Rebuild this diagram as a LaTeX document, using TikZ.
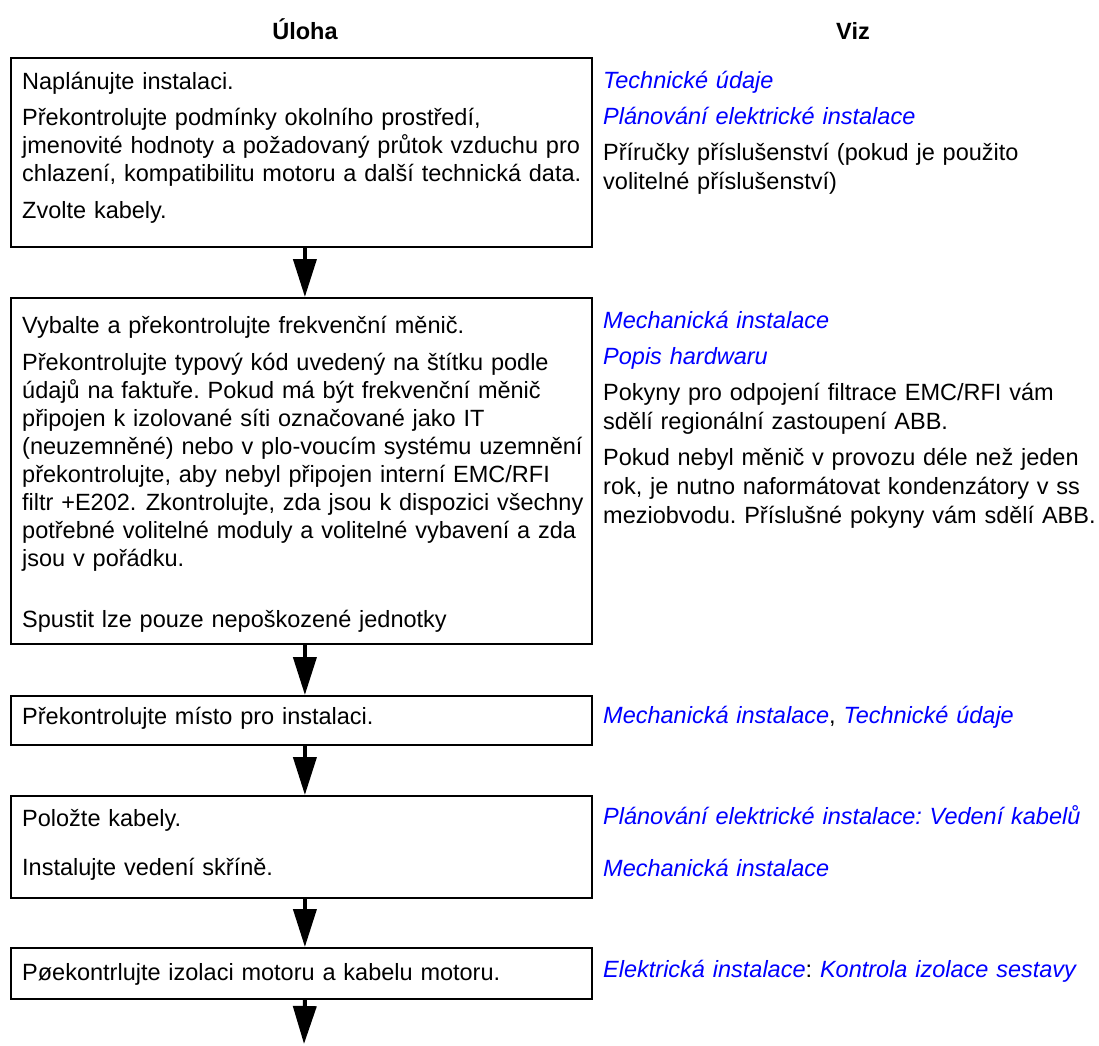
\documentclass[tikz,border=0pt]{standalone}
\usepackage{fontspec}
\setmainfont{Liberation Sans}
\usepackage{tikz}
\usetikzlibrary{arrows.meta}
\frenchspacing
\newcommand{\odkaz}[1]{{\color{blue}\itshape #1}}

\begin{document}
\begin{tikzpicture}[x=1pt, y=-1pt,
	every node/.style={font=\fontsize{23.5}{27.9}\selectfont, inner sep=0pt},
	krok/.style={draw, line width=1.8pt, minimum width=581pt, anchor=north west},
	ukol/.style={anchor=base west, align=left, text width=575pt},
	viz/.style={anchor=base west, align=left, text width=520pt, font=\fontsize{23.5}{29}\selectfont},
	hlava/.style={anchor=base, font=\fontsize{23.5}{27.9}\selectfont\bfseries},
	sipka/.style={line width=4pt, -{Triangle[width=23pt, length=38pt]}}]
	
	\useasboundingbox (0,0) rectangle (1099,1045);
	
	% hlavicky sloupcu
	\node[hlava] (uloha) at (305,39) {Úloha};
	\node[hlava] (vizh) at (853,39) {Viz};
	
	% kroky
	\node[krok, minimum height=189pt] (b1) at (10,57) {};
	\node[krok, minimum height=346pt] (b2) at (10,297) {};
	\node[krok, minimum height=49pt] (b3) at (10,695) {};
	\node[krok, minimum height=102pt] (b4) at (10,795) {};
	\node[krok, minimum height=51pt] (b5) at (10,947) {};
	
	\node[ukol] (t1) at (22,89) {Naplánujte instalaci.\\[9pt]
		Překontrolujte podmínky okolního prostředí,\\
		jmenovité hodnoty a požadovaný průtok vzduchu pro\\
		chlazení, kompatibilitu motoru a další technická data.\\[9pt]
		Zvolte kabely.};
	\node[ukol] (t2) at (22,333) {Vybalte a překontrolujte frekvenční měnič.\\[10pt]
		Překontrolujte typový kód uvedený na štítku podle\\
		údajů na faktuře. Pokud má být frekvenční měnič\\
		připojen k izolované síti označované jako IT\\
		(neuzemněné) nebo v plo-voucím systému uzemnění\\
		překontrolujte, aby nebyl připojen interní EMC/RFI\\
		filtr +E202.\ \hspace{1.5pt}Zkontrolujte, zda jsou k dispozici všechny\\
		potřebné volitelné moduly a volitelné vybavení a zda\\
		jsou v pořádku.\\[33pt]
		Spustit lze pouze nepoškozené jednotky};
	\node[ukol] (t3) at (22,724) {Překontrolujte místo pro instalaci.};
	\node[ukol] (t4) at (22,826) {Položte kabely.\\[22pt]
		Instalujte vedení skříně.};
	\node[ukol] (t5) at (22,980) {Pøekontrlujte izolaci motoru a kabelu motoru.};
	
	% odkazy
	\node[viz] (v1) at (603,88) {\odkaz{Technické údaje}\\[7pt]
		\odkaz{Plánování elektrické instalace}\\[7pt]
		Příručky příslušenství (pokud je použito\\
		volitelné příslušenství)};
	\node[viz] (v2) at (603,328) {\odkaz{Mechanická instalace}\\[7pt]
		\odkaz{Popis hardwaru}\\[7pt]
		Pokyny pro odpojení filtrace EMC/RFI vám\\
		sdělí regionální zastoupení ABB.\\[7pt]
		Pokud nebyl měnič v provozu déle než jeden\\
		rok, je nutno naformátovat kondenzátory v ss\\
		meziobvodu. Příslušné pokyny vám sdělí ABB.};
	\node[viz] (v3) at (603,723) {\odkaz{Mechanická instalace}, \odkaz{Technické údaje}};
	\node[viz] (v4) at (603,824) {\odkaz{Plánování elektrické instalace: Vedení kabelů}\\[23pt]
		\odkaz{Mechanická instalace}};
	\node[viz] (v5) at (603,977) {\odkaz{Elektrická instalace}: \odkaz{Kontrola izolace sestavy}};
	
	% sipky
	\draw[sipka] ([xshift=3.5pt]b1.south) -- ([xshift=3.5pt]b2.north);
	\draw[sipka] ([xshift=3.5pt]b2.south) -- ([xshift=3.5pt]b3.north);
	\draw[sipka] ([xshift=3.5pt]b3.south) -- ([xshift=3.5pt]b4.north);
	\draw[sipka] ([xshift=3.5pt]b4.south) -- ([xshift=3.5pt]b5.north);
	\coordinate (konec) at (304,1044);
	\draw[sipka] ([xshift=3.5pt]b5.south) -- (konec);
\end{tikzpicture}
\end{document}
